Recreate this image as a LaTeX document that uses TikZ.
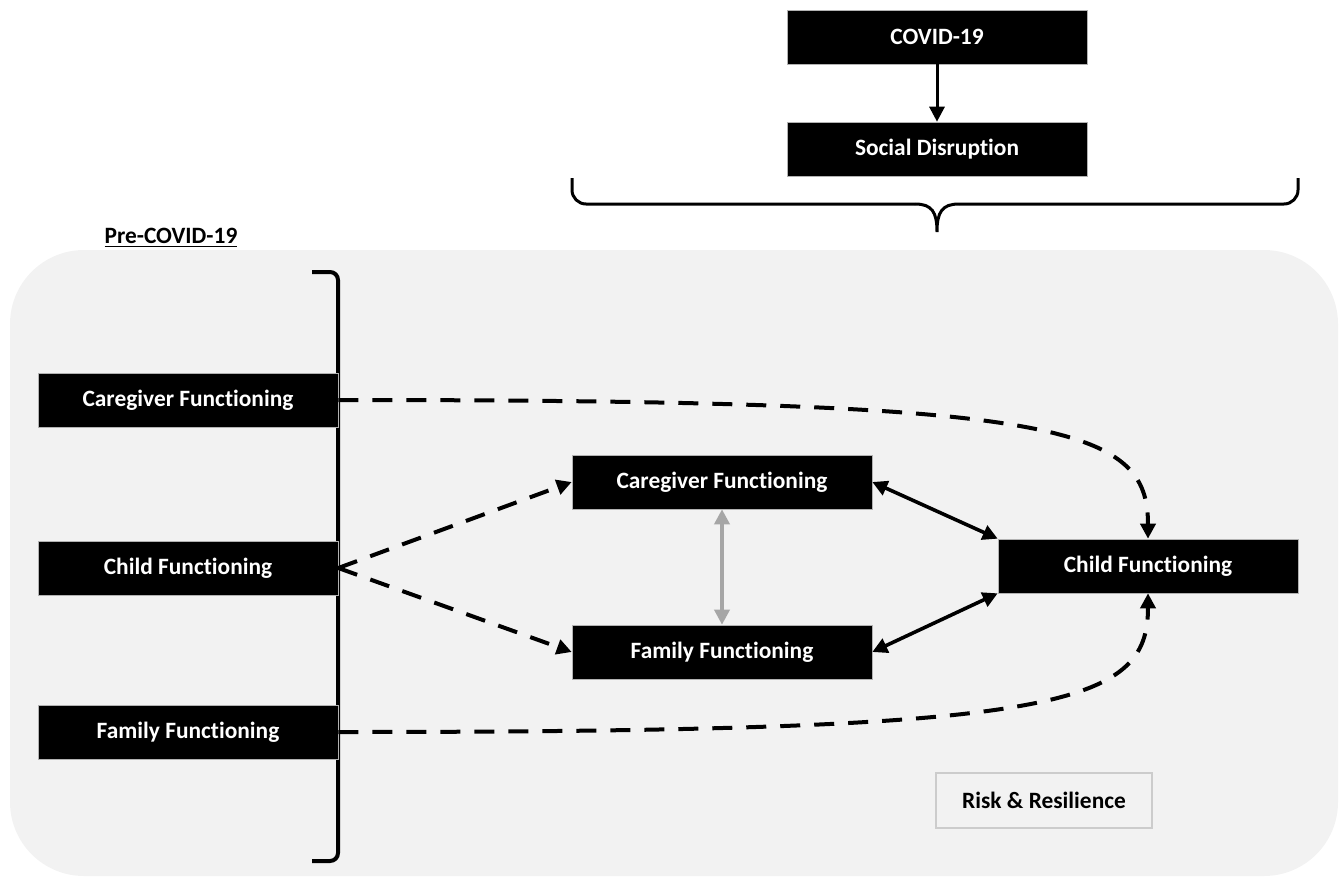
\documentclass[tikz,border=0pt]{standalone}
\usepackage{fontspec}
\setmainfont{Carlito}[Ligatures=NoCommon]
\usetikzlibrary{positioning, arrows.meta}
\definecolor{panel}{RGB}{242,242,242}

\begin{document}
\begin{tikzpicture}[x=0.5pt,y=-0.5pt,>={Triangle[length=7.5pt,width=7.5pt]},
  blk/.style={fill=black,draw=gray!60,line width=0.3pt,text=white,
              font=\bfseries\fontsize{11.7}{14}\selectfont,
              minimum width=150pt,minimum height=27pt,inner sep=0pt},
  dsh/.style={->,line width=2pt,dash pattern=on 10pt off 7pt},
  sld/.style={<->,line width=1.8pt}]
  \useasboundingbox (0,0) rectangle (1339,878);
  % background panel
  \fill[panel,rounded corners=37pt] (10,250) rectangle (1338,876);
  \node[font=\bfseries\fontsize{11.7}{14}\selectfont] (pre) at (171,238) {\underline{Pre-COVID-19}};
  % top
  \node[blk] (covid) at (937,37) {COVID-19};
  \node[blk] (soc) at (937,149) {Social Disruption};
  \draw[->,line width=1.5pt] (covid) -- (soc);
  % brace
  \draw[line width=1.5pt,rounded corners=7pt] (572,178) -- (572,204) -- (915,204);
  \draw[line width=1.5pt] (915,204) .. controls (932,204) and (937,212) .. (937,232)
        .. controls (937,212) and (942,204) .. (959,204);
  \draw[line width=1.5pt,rounded corners=7pt] (959,204) -- (1298,204) -- (1298,178);
  % left bracket
  \draw[line width=2pt,rounded corners=4pt] (312,272) -- (338,272) -- (338,861) -- (312,861);
  % boxes
  \node[blk] (cg1) at (188,400) {Caregiver Functioning};
  \node[blk] (cf1) at (188,568) {Child Functioning};
  \node[blk] (fm1) at (188,732) {Family Functioning};
  \node[blk] (cg2) at (722,482) {Caregiver Functioning};
  \node[blk] (fm2) at (722,652) {Family Functioning};
  \node[blk] (cf2) at (1148,566) {Child Functioning};
  \node[draw=gray!40,line width=1pt,fill=panel,font=\bfseries\fontsize{11.7}{14}\selectfont,
        minimum width=108pt,minimum height=27.5pt,inner sep=0pt] (risk) at (1044,800) {Risk \& Resilience};
  % arrows
  \draw[dsh] (cg1.east) .. controls (1060,400) and (1148,425) .. (cf2.north);
  \draw[dsh] (fm1.east) .. controls (1060,732) and (1148,707) .. (cf2.south);
  \draw[dsh] (cf1.east) -- (cg2.west);
  \draw[dsh] (cf1.east) -- (fm2.west);
  \draw[sld] (cg2.east) -- (cf2.north west);
  \draw[sld] (fm2.east) -- (cf2.south west);
  \draw[sld,gray!70] (cg2) -- (fm2);
\end{tikzpicture}
\end{document}
